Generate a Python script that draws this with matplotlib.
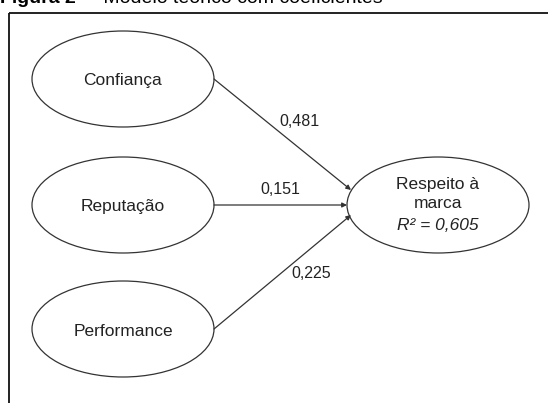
import matplotlib
matplotlib.use("Agg")
import matplotlib.pyplot as plt
from matplotlib.patches import Ellipse, FancyArrowPatch

plt.rcParams['font.family'] = ['Liberation Sans', 'DejaVu Sans']

# Dados do modelo
construtos = ['Confiança', 'Reputação', 'Performance']
coeficientes = ['0,481', '0,151', '0,225']
dependente = ['Respeito à', 'marca']
r2 = 'R² = 0,605'
titulo_num = 'Figura 2'
titulo = '– Modelo teórico com coeficientes'

# Layout em pixels (origem no topo esquerdo)
W, H = 548, 403
pos_x = 123
pos_y = [79, 205, 329]
dep_x, dep_y = 438, 205
ew, eh = 182, 96
lbl_pos = [(299, 122), (280, 190), (311, 274)]

fig = plt.figure(figsize=(W / 100, H / 100), dpi=100)
ax = fig.add_axes([0, 0, 1, 1])
ax.set_xlim(0, W)
ax.set_ylim(H, 0)
ax.axis('off')

# moldura (só topo e esquerda aparecem)
ax.plot([9, W], [13, 13], color='#111111', lw=1.3, solid_capstyle='butt')
ax.plot([9, 9], [13, H], color='#111111', lw=1.3, solid_capstyle='butt')

# titulo cortado no topo
ax.text(0, 3, titulo_num, fontsize=14, fontweight='bold', va='baseline', ha='left')
ax.text(87, 3, titulo, fontsize=14, va='baseline', ha='left')

for nome, y in zip(construtos, pos_y):
    ax.add_patch(Ellipse((pos_x, y), ew, eh, fill=False, ec='#333333', lw=0.9))
    ax.text(pos_x, y + 2, nome, fontsize=12.5, ha='center', va='center', color='#222222')

ax.add_patch(Ellipse((dep_x, dep_y), ew, eh, fill=False, ec='#333333', lw=0.9))
ax.text(dep_x, 184, dependente[0], fontsize=12.5, ha='center', va='center', color='#222222')
ax.text(dep_x, 204, dependente[1], fontsize=12.5, ha='center', va='center', color='#222222')
ax.text(dep_x, 225, r2, fontsize=12.5, ha='center', va='center',
        style='italic', color='#222222')

# setas
a = ew / 2
fim = [(351, 190), (347, 205), (351, 215)]
for y, (fx, fy), c, (lx, ly) in zip(pos_y, fim, coeficientes, lbl_pos):
    seta = FancyArrowPatch((pos_x + a, y), (fx, fy), arrowstyle='-|>',
                           mutation_scale=7, lw=0.9, color='#333333',
                           shrinkA=0, shrinkB=0)
    ax.add_patch(seta)
    ax.text(lx, ly, c, fontsize=11.5, ha='center', va='center', color='#222222')

fig.savefig('out.png', dpi=100)
